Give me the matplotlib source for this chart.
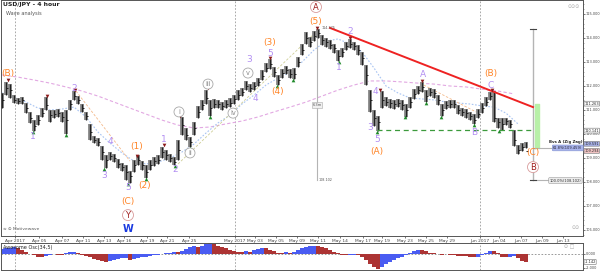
import matplotlib
matplotlib.use('Agg')
import matplotlib.pyplot as plt
import matplotlib.transforms as mtransforms
from matplotlib import font_manager
import numpy as np

# ---------------- data ----------------
high = [111.71, 112.17, 112.08, 111.62, 111.50, 111.54, 111.29, 110.92, 110.58, 110.79,
        111.08, 111.54, 111.00, 111.00, 111.04, 110.92, 111.00, 111.42, 111.79, 111.58,
        111.25, 110.92, 110.42, 109.92, 109.83, 109.50, 109.12, 109.25, 109.17, 108.96,
        108.79, 108.71, 108.46, 108.92, 109.12, 108.87, 108.71, 108.92, 109.04, 109.12,
        109.46, 109.33, 109.17, 109.04, 109.75, 110.71, 110.25, 109.87, 110.50, 111.17,
        111.42, 111.83, 111.42, 111.46, 111.42, 111.33, 111.42, 111.50, 111.62, 111.83,
        111.92, 112.21, 112.08, 112.17, 112.33, 112.67, 112.96, 113.12, 112.79, 112.46,
        112.71, 112.83, 112.71, 112.75, 113.21, 113.75, 114.25, 114.04, 114.29, 114.37,
        114.12, 114.00, 113.92, 113.75, 113.50, 113.58, 113.83, 113.96, 113.83, 113.71,
        113.42, 112.87, 111.83, 111.00, 110.75, 111.79, 111.54, 111.46, 111.42, 111.46,
        111.42, 111.25, 111.54, 111.87, 112.00, 112.17, 111.83, 111.92, 111.87, 111.62,
        111.25, 111.37, 111.42, 111.42, 111.21, 111.08, 111.04, 110.92, 110.83, 111.04,
        111.29, 111.54, 111.75, 111.79, 110.67, 110.67, 110.67, 110.58, 110.17, 109.54,
        109.62, 109.67]
low = [111.08, 111.62, 111.50, 111.29, 111.25, 111.25, 110.87, 110.46, 110.12, 110.37,
       110.71, 111.00, 110.50, 110.67, 110.71, 110.50, 110.00, 111.00, 111.42, 111.25,
       110.92, 110.58, 109.75, 109.62, 109.50, 108.92, 108.58, 108.92, 108.83, 108.58,
       108.46, 108.08, 107.96, 108.42, 108.71, 108.50, 108.17, 108.50, 108.67, 108.75,
       109.00, 108.92, 108.83, 108.71, 108.92, 109.96, 109.75, 109.46, 109.96, 110.67,
       111.00, 111.25, 110.75, 111.08, 111.08, 111.00, 111.08, 111.12, 111.25, 111.42,
       111.58, 111.83, 111.75, 111.83, 112.00, 112.25, 112.58, 112.71, 112.37, 112.04,
       112.33, 112.50, 112.33, 112.29, 112.79, 113.29, 113.75, 113.62, 113.87, 114.00,
       113.71, 113.62, 113.54, 113.37, 113.04, 113.21, 113.50, 113.58, 113.50, 113.29,
       112.87, 112.04, 110.92, 110.33, 110.12, 111.08, 111.17, 111.08, 111.04, 111.12,
       111.00, 110.71, 111.08, 111.46, 111.67, 111.75, 111.33, 111.58, 111.50, 111.21,
       110.75, 111.04, 111.08, 111.08, 110.83, 110.75, 110.67, 110.58, 110.42, 110.67,
       110.87, 111.17, 111.42, 110.50, 110.25, 110.17, 110.37, 110.25, 109.50, 109.17,
       109.29, 109.42]
close = [111.42, 111.92, 111.83, 111.42, 111.37, 111.42, 111.08, 110.67, 110.33, 110.58,
         110.87, 111.21, 110.79, 110.83, 110.87, 110.71, 110.58, 111.25, 111.58, 111.42,
         111.08, 110.75, 110.08, 109.75, 109.67, 109.25, 108.92, 109.08, 109.00, 108.75,
         108.62, 108.42, 108.25, 108.71, 108.92, 108.71, 108.42, 108.71, 108.87, 108.92,
         109.25, 109.12, 109.00, 108.83, 109.33, 110.37, 109.96, 109.67, 110.25, 110.92,
         111.21, 111.50, 111.08, 111.25, 111.25, 111.17, 111.25, 111.29, 111.46, 111.62,
         111.75, 112.00, 111.92, 112.00, 112.17, 112.42, 112.75, 112.92, 112.58, 112.25,
         112.54, 112.67, 112.50, 112.50, 113.00, 113.50, 114.00, 113.83, 114.08, 114.21,
         113.92, 113.83, 113.71, 113.58, 113.25, 113.42, 113.67, 113.75, 113.67, 113.50,
         113.17, 112.46, 111.42, 110.67, 110.50, 111.42, 111.33, 111.29, 111.25, 111.29,
         111.21, 111.00, 111.33, 111.67, 111.83, 111.96, 111.58, 111.75, 111.71, 111.42,
         111.00, 111.21, 111.25, 111.25, 111.00, 110.92, 110.87, 110.75, 110.58, 110.83,
         111.08, 111.33, 111.58, 110.67, 110.50, 110.42, 110.54, 110.42, 109.75, 109.33,
         109.46, 109.29]

# slow moving average (sampled every 4 bars)
ma_slow = [112.46, 112.37, 112.25, 112.12, 111.96, 111.79, 111.58, 111.33, 111.08, 110.83,
           110.58, 110.37, 110.25, 110.29, 110.42, 110.54, 110.71, 110.92, 111.12, 111.33,
           111.58, 111.83, 112.04, 112.21, 112.21, 112.17, 112.12, 112.08, 112.00, 111.96,
           111.87, 111.79, 111.67]
# fast moving average (sampled every 3 bars)
ma_fast = [111.71, 111.54, 111.33, 111.08, 111.00, 111.04, 111.12, 110.71, 110.08, 109.62,
           109.21, 108.87, 108.75, 108.83, 109.00, 109.25, 109.58, 110.04, 110.46, 110.79,
           111.25, 111.62, 112.04, 112.33, 112.58, 113.00, 113.50, 113.87, 113.96, 113.75,
           113.42, 112.75, 112.00, 111.71, 111.50, 111.46, 111.42, 111.33, 111.29, 111.25,
           111.17, 111.12, 110.87, 110.42]

ao = [0.7, 0.8, 0.9, 1.0, 0.8, 0.6, 0.3, 0.0, -0.2, -0.4,
      -0.5, -0.3, -0.1, 0.0, -0.1, -0.2, 0.1, 0.3, 0.35, 0.2,
      -0.1, -0.3, -0.5, -0.7, -0.85, -1.0, -1.1, -1.0, -0.8, -0.7,
      -0.6, -0.6, -0.8, -0.7, -0.6, -0.5, -0.4, -0.3, -0.2, -0.1,
      0.0, 0.1, 0.2, 0.3, 0.25, 0.4, 0.7, 1.0, 1.1, 1.0,
      1.2, 1.4, 1.5, 1.4, 1.2, 1.0, 0.8, 0.6, 0.4, 0.35,
      0.3, 0.4, 0.35, 0.5, 0.7, 0.85, 0.8, 0.6, 0.4, 0.2,
      0.15, 0.3, 0.2, 0.3, 0.6, 0.8, 1.0, 1.1, 1.2, 1.1,
      1.0, 0.8, 0.5, 0.3, 0.1, -0.1, -0.2, -0.1, -0.1, -0.2,
      -0.5, -0.9, -1.4, -1.8, -2.1, -1.8, -1.5, -1.2, -0.9, -0.6,
      -0.4, -0.2, 0.1, 0.4, 0.6, 0.55, 0.4, 0.2, 0.1, 0.0,
      -0.1, -0.05, -0.1, -0.15, -0.25, -0.3, -0.35, -0.45, -0.5, -0.4,
      -0.1, 0.2, 0.45, 0.4, 0.1, -0.4, -0.5, -0.4, -0.3, -0.6,
      -1.0, -1.142]

date_labels = ['Apr 2017', 'Apr 05', 'Apr 07', 'Apr 11', 'Apr 13', 'Apr 16', 'Apr 19', 'Apr 21',
               'Apr 25', 'May 2017', 'May 03', 'May 05', 'May 09', 'May 11', 'May 14', 'May 17',
               'May 19', 'May 23', 'May 25', 'May 29', 'Jun 2017', 'Jun 04', 'Jun 07', 'Jun 09',
               'Jun 13']
date_bars = [3.25, 9.25, 15, 20.25, 25.5, 30.5, 36.25, 41.25, 46.75, 58.25, 63.25, 68.5, 73.75,
             79, 84.5, 90.25, 95, 100.75, 106, 111.25, 119.5, 124.25, 129.75, 135, 140.25]
month_bars = [3.25, 58.25, 119.5]

# wave labels: (text, bar, price)
minor_labels = [('1', 7.75, 109.88), ('2', 18, 111.88), ('3', 25.5, 108.29), ('4', 27, 109.67),
                ('5', 31.5, 107.75), ('1', 40.5, 109.79), ('2', 43.25, 108.5), ('3', 61.75, 113.12),
                ('4', 63.25, 111.46), ('5', 67, 113.37), ('1', 84.25, 112.75), ('2', 87, 114.25),
                ('3', 92, 110.25), ('4', 93.25, 111.75), ('5', 93.75, 109.79), ('A', 105.25, 112.46),
                ('B', 118, 110.08), ('C', 122.25, 112.04)]
inter_labels = [('(B)', 1.5, 112.5), ('(1)', 33.75, 109.46), ('(2)', 35.75, 107.87),
                ('(C)', 31.5, 107.17), ('(3)', 67, 113.83), ('(4)', 69, 111.75), ('(5)', 78.5, 114.67),
                ('(A)', 93.75, 109.25), ('(B)', 122.25, 112.54), ('(C)', 132.75, 109.21)]
roman_labels = [('i', 44.25, 110.92), ('ii', 47, 109.21), ('iii', 51.5, 112.08),
                ('iv', 57.75, 110.87), ('v', 61.5, 112.54)]
primary_labels = [('A', 78.5, 115.29), ('Y', 31.5, 106.62), ('B', 132.75, 108.62)]
cycle_labels = [('W', 31.5, 106.04)]

peak_bars = [1.5, 11.25, 18.25, 33.75, 40.5, 44.5, 51.5, 67, 78.75, 87, 94.5, 105, 122.5]
peak_prices = [112.25, 111.58, 111.83, 109.08, 109.54, 110.75, 111.92, 113.17, 114.42, 114.0,
               111.83, 112.21, 111.83]
trough_bars = [7.75, 16, 25.5, 31.5, 36, 43.25, 47, 52, 68.75, 72.75, 84.25, 93.75, 100.75,
               106, 109.75, 118, 124.25]
trough_prices = [110.08, 109.96, 108.54, 107.92, 108.12, 108.67, 109.42, 110.71, 112.0, 112.25,
                 113.0, 110.08, 110.71, 111.29, 110.71, 110.37, 110.12]

trend_bars = [82, 132.75]
trend_prices = [114.42, 111.12]
support_bars = [93.75, 132.75]
support_price = 110.17
measure_bar = 132.75
measure_top, measure_mid, measure_bot = 114.37, 109.42, 108.08
zone_top, zone_bot = 111.25, 109.42

axis_marks = [('111.263', 111.263, 'white'), ('110.141', 110.141, 'white'),
              ('109.591', 109.591, '#aab4ec'), ('109.294', 109.294, '#f2c4c4')]

# narrow font for the right-hand price scale, if one is available
names = {f.name for f in font_manager.fontManager.ttflist}
cond_fp = font_manager.FontProperties(family='DejaVu Sans', stretch='condensed')
if 'Liberation Sans Narrow' in names:
    scale_fp = font_manager.FontProperties(family='Liberation Sans Narrow', size=3.2)
elif 'Condensed' in font_manager.findfont(cond_fp, fallback_to_default=True):
    scale_fp = font_manager.FontProperties(family='DejaVu Sans', stretch='condensed', size=2.8)
else:
    scale_fp = font_manager.FontProperties(family='DejaVu Sans', size=2.35)

# ---------------- figure ----------------
fig = plt.figure(figsize=(6, 2.71), dpi=100)
L, W = 1 / 600, 582 / 600
ax = fig.add_axes([L, 35 / 271, W, 236 / 271])
ax2 = fig.add_axes([L, 1 / 271, W, 27 / 271])

x = np.arange(len(close))
ax.set_xlim(-0.25, 145.25)
ax.set_ylim(105.75, 115.583)
ax2.set_xlim(-0.25, 145.25)
ax2.set_ylim(-2.29, 1.57)

for a in (ax, ax2):
    for s in a.spines.values():
        s.set_color('#555555')
        s.set_linewidth(0.7)
    for mb in month_bars:
        a.axvline(mb, color='#9a9a9a', lw=0.6, ls=(0, (2, 2)), zorder=0)

# moving averages
ax.plot(np.arange(len(ma_slow)) * 4, ma_slow, color='#e2a8e2', lw=0.8, ls=(0, (3, 2)), zorder=1)
ax.plot(np.arange(len(ma_fast)) * 3, ma_fast, color='#a8c4f2', lw=0.8, ls=(0, (1.5, 1.5)), zorder=1)

# channel lines
ax.plot([18.5, 32], [111.79, 108.87], color='#f4b98a', lw=0.6, ls=(0, (3, 2)), zorder=1)
ax.plot([44, 78.75], [108.75, 114.29], color='#cfcf98', lw=0.6, ls=(0, (3, 2)), zorder=1)
ax.plot([104.5, 118.5], [112.12, 110.92], color='#f4b98a', lw=0.6, ls=(0, (3, 2)), zorder=1)

# price bars
ax.vlines(x, low, high, color='#8c8c8c', lw=2.8, zorder=2)
ax.vlines(x, low, high, color='#222222', lw=0.9, zorder=3)
ax.hlines(close, x, x + 0.5, color='#222222', lw=0.7, zorder=3)

# markers
ax.scatter(peak_bars, peak_prices, marker='v', s=7, color='#8b1a1a', zorder=4, linewidths=0)
ax.scatter(trough_bars, trough_prices, marker='^', s=7, color='#1f8a2a', zorder=4, linewidths=0)

# trend / support lines
ax.plot(trend_bars, trend_prices, color='#ee2222', lw=1.4, zorder=3)
ax.plot(support_bars, [support_price] * 2, color='#3c9a3c', lw=0.9, ls=(0, (4, 3)), zorder=3)

# measurement tool
ax.plot([78.75, 78.75], [measure_top, measure_bot], color='#b4b4b4', lw=0.8, zorder=1)
ax.text(78.75, 111.2, '6.3m', fontsize=2.6, color='#555', ha='center', va='center',
        bbox=dict(boxstyle='square,pad=0.2', fc='#f0f0f0', ec='#aaa', lw=0.4), zorder=5)
ax.text(80, 114.4, '114.375', fontsize=2.4, color='#555', ha='left', va='center', zorder=5)
ax.text(79.2, 108.08, '108.102', fontsize=2.4, color='#555', ha='left', va='center', zorder=5)
ax.plot([measure_bar, measure_bar], [measure_top, measure_bot], color='#b4b4b4', lw=1.0, zorder=2)
ax.plot([measure_bar - 0.8, measure_bar + 0.8], [measure_top] * 2, color='#444', lw=0.8, zorder=3)
ax.plot([measure_bar - 0.8, measure_bar + 0.8], [measure_bot] * 2, color='#444', lw=0.8, zorder=3)
ax.fill_between([measure_bar + 0.5, measure_bar + 1.5], zone_bot, zone_top, color='#b8f0a8', zorder=2)
ax.plot([measure_bar, measure_bar + 5], [measure_mid] * 2, color='#b4b4b4', lw=0.8, zorder=2)
ax.plot([measure_bar, measure_bar + 4], [measure_bot] * 2, color='#b4b4b4', lw=0.8, zorder=2)
ax.text(136.8, 109.67, 'Bvs A (Zig Zag)', fontsize=2.8, weight='bold', color='#222', ha='left', va='center', zorder=5)
ax.text(137.8, 109.42, '61.8%(109.459)', fontsize=2.6, color='#223', ha='left', va='center', zorder=5,
        bbox=dict(boxstyle='round,pad=0.25', fc='#aab4ec', ec='#8090d0', lw=0.4))
ax.text(136.9, 108.06, '100.0%(108.102)', fontsize=2.6, color='#333', ha='left', va='center', zorder=5,
        bbox=dict(boxstyle='round,pad=0.25', fc='#ececec', ec='#999', lw=0.4))

# wave labels
for t, b, p in minor_labels:
    ax.text(b, p, t, fontsize=6.5, color='#b28ef2', ha='center', va='center', zorder=6)
for t, b, p in inter_labels:
    ax.text(b, p, t, fontsize=6.5, color='#ff8426', ha='center', va='center', zorder=6)
for t, b, p in roman_labels:
    ax.text(b, p, t, fontsize=4.8, color='#8a8a8a', ha='center', va='center', zorder=6,
            bbox=dict(boxstyle='circle,pad=0.3', fc='white', ec='#a8a8a8', lw=0.6))
for t, b, p in primary_labels:
    ax.text(b, p, t, fontsize=6, color='#a01c1c', ha='center', va='center', zorder=6,
            bbox=dict(boxstyle='circle,pad=0.12', fc='white', ec='#d89a9a', lw=0.6))
for t, b, p in cycle_labels:
    ax.text(b, p, t, fontsize=7, color='#1a3ae0', weight='bold', ha='center', va='center', zorder=6)

# titles
ax.text(0.004, 0.992, 'USD/JPY - 4 hour', transform=ax.transAxes, fontsize=4.4, weight='bold',
        color='#222', ha='left', va='top')
ax.text(0.008, 0.955, 'Wave analysis', transform=ax.transAxes, fontsize=3.6, color='#555',
        ha='left', va='top')
ax.text(0.004, 0.03, '\u221e \u2299 Motivewave', transform=ax.transAxes, fontsize=3.2, color='#555',
        ha='left', va='center')
ax.text(0.995, 0.985, '\u2299\u2299\u2299', transform=ax.transAxes, fontsize=3.5, color='#aaa',
        ha='right', va='top')
ax.text(0.995, 0.035, '\u2299\u2299', transform=ax.transAxes, fontsize=3.5, color='#aaa',
        ha='right', va='center')

# axes ticks
ax.yaxis.tick_right()
ax.set_yticks(np.arange(106, 115.5, 1.0))
ax.set_yticks(np.arange(105.8, 115.6, 0.2), minor=True)
ax.yaxis.set_major_formatter(matplotlib.ticker.FormatStrFormatter('%.3f'))
ax.tick_params(axis='y', which='major', length=1.5, width=0.5, pad=0.2, colors='#444')
ax.tick_params(axis='y', which='minor', length=0.8, width=0.4, colors='#666')
ax.set_xticks(date_bars)
ax.set_xticklabels(date_labels)
ax.tick_params(axis='x', labelsize=3.2, length=1.5, width=0.5, pad=0.6, colors='#444')

tr = mtransforms.blended_transform_factory(ax.transAxes, ax.transData)
for t, p, c in axis_marks:
    ax.text(1.0025, p, t, transform=tr, fontproperties=scale_fp, color='#222',
            ha='left', va='center', zorder=7, clip_on=False,
            bbox=dict(boxstyle='round,pad=0.1', fc=c, ec='#888', lw=0.5))

# oscillator
xo = np.arange(len(ao))
ao_arr = np.array(ao)
rising = np.concatenate([[True], ao_arr[1:] >= ao_arr[:-1]])
colors = np.where(rising, '#4a5cf2', '#ac3434')
ax2.bar(xo, ao_arr, width=0.8, color=colors, linewidth=0, zorder=2)
ax2.axhline(0, color='#888', lw=0.6, ls=(0, (2, 2)), zorder=1)
ax2.set_xticks([])
ax2.yaxis.tick_right()
ax2.set_yticks([0, -2])
ax2.yaxis.set_major_formatter(matplotlib.ticker.FormatStrFormatter('%.3f'))
ax2.tick_params(axis='y', length=1.5, width=0.5, pad=0.2, colors='#444')
ax2.text(0.004, 0.85, 'Awesome Osc(34,5)', transform=ax2.transAxes, fontsize=3.6, color='#222',
         ha='left', va='center')
ax2.text(0.985, 0.85, '\u2299 \u25a1', transform=ax2.transAxes, fontsize=3.5, color='#aaa',
         ha='right', va='center')
tr2 = mtransforms.blended_transform_factory(ax2.transAxes, ax2.transData)
ax2.text(1.0025, ao[-1], '%.3f' % ao[-1], transform=tr2, fontproperties=scale_fp,
         color='#222', ha='left', va='center', clip_on=False, zorder=7,
         bbox=dict(boxstyle='round,pad=0.1', fc='white', ec='#888', lw=0.5))

# apply the scale font to the right-hand tick labels
for a in (ax, ax2):
    for tk in a.yaxis.get_major_ticks():
        tk.label2.set_fontproperties(scale_fp)

fig.savefig('out.png', dpi=100)
